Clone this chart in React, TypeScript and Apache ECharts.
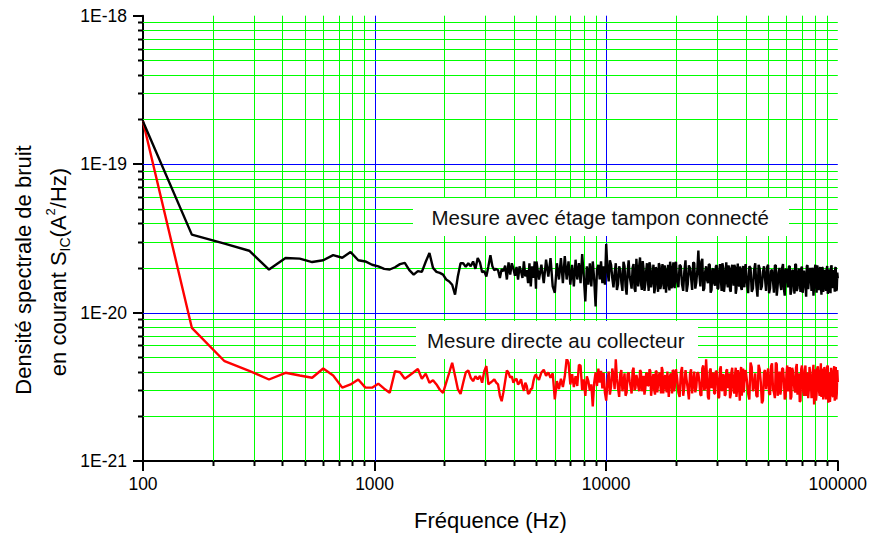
import { useEffect, useRef } from 'react';
import * as echarts from 'echarts';

const FONT = '"Liberation Sans", Arial, Helvetica, sans-serif';
const GREEN = '#00ff00';
const BLUE = '#0000ff';

// Spectrum bins (Hz)
const freqHz = [
  100, 162.5, 225, 287.5, 350, 412.5, 475, 537.5, 600, 662.5,
  725, 787.5, 850, 912.5, 975, 1037.5, 1100, 1162.5, 1225, 1287.5,
  1350, 1412.5, 1475, 1537.5, 1600, 1662.5, 1725, 1787.5, 1850, 1912.5,
  1975, 2037.5, 2100, 2162.5, 2225, 2287.5, 2350, 2412.5, 2475, 2537.5,
  2600, 2662.5, 2725, 2787.5, 2850, 2912.5, 2975, 3037.5, 3100, 3162.5,
  3225, 3287.5, 3350, 3412.5, 3475, 3537.5, 3600, 3662.5, 3725, 3787.5,
  3850, 3912.5, 3975, 4037.5, 4100, 4162.5, 4225, 4287.5, 4350, 4412.5,
  4475, 4537.5, 4600, 4662.5, 4725, 4787.5, 4850, 4912.5, 4975,
  5000, 5125, 5250, 5375, 5500, 5625, 5750, 5875, 6000, 6125,
  6250, 6375, 6500, 6625, 6750, 6875, 7000, 7125, 7250, 7375,
  7500, 7625, 7750, 7875, 8000, 8125, 8250, 8375, 8500, 8625,
  8750, 8875, 9000, 9125, 9250, 9375, 9500, 9625, 9750, 9875,
  10000, 10250, 10500, 10750, 11000, 11250, 11500, 11750, 12000, 12250,
  12500, 12750, 13000, 13250, 13500, 13750, 14000, 14250, 14500, 14750,
  15000, 15250, 15500, 15750, 16000, 16250, 16500, 16750, 17000, 17250,
  17500, 17750, 18000, 18250, 18500, 18750, 19000, 19250, 19500, 19750,
  20000, 20500, 21000, 21500, 22000, 22500, 23000, 23500, 24000, 24500,
  25000, 25500, 26000, 26500, 27000, 27500, 28000, 28500, 29000, 29500,
  30000, 30500, 31000, 31500, 32000, 32500, 33000, 33500, 34000, 34500,
  35000, 35500, 36000, 36500, 37000, 37500, 38000, 38500, 39000, 39500,
  40000, 41000, 42000, 43000, 44000, 45000, 46000, 47000, 48000, 49000,
  50000, 51000, 52000, 53000, 54000, 55000, 56000, 57000, 58000, 59000,
  60000, 61000, 62000, 63000, 64000, 65000, 66000, 67000, 68000, 69000,
  70000, 71000, 72000, 73000, 74000, 75000, 76000, 77000, 78000, 79000,
  80000, 81000, 82000, 83000, 84000, 85000, 86000, 87000, 88000, 89000,
  90000, 91000, 92000, 93000, 94000, 95000, 96000, 97000, 98000, 99000,
  100000,
];

// Measurement with the buffer stage connected, in units of 1e-20 A²/Hz
const bufferedE20 = [
  19.4, 3.35, 2.91, 2.61, 1.95, 2.33, 2.31, 2.19, 2.25, 2.44,
  2.34, 2.56, 2.25, 2.21, 2.10, 2.05, 1.97, 1.95, 2.02, 2.12,
  2.16, 1.93, 1.80, 1.90, 1.88, 2.20, 2.52, 2.00, 1.88, 1.85,
  1.80, 1.67, 1.62, 1.54, 1.32, 1.75, 2.15, 2.15, 2.03, 2.15,
  2.05, 2.21, 1.97, 2.33, 2.18, 1.87, 1.90, 1.75, 2.05, 2.43,
  2.05, 1.93, 1.97, 1.93, 1.71, 1.97, 1.90, 2.07, 1.67, 2.18,
  1.80, 2.15, 1.97, 1.77, 2.03, 1.67, 2.05, 1.90, 1.71, 2.21,
  1.75, 1.93, 1.58, 2.15, 1.50, 2.05, 1.71, 2.21, 1.45,
  2.21, 1.67, 2.10, 1.58, 2.27, 1.75, 2.33, 1.50, 1.36, 2.15,
  1.67, 2.33, 1.58, 2.40, 1.67, 2.21, 1.54, 2.10, 1.50, 2.27,
  1.67, 2.15, 1.58, 2.48, 1.75, 1.19, 2.05, 1.54, 2.15, 1.50,
  2.21, 1.67, 1.10, 1.95, 2.10, 1.67, 2.21, 1.58, 2.05, 1.54,
  2.90, 1.62, 2.10, 1.48, 2.15, 1.55, 1.95, 1.40, 2.05, 1.32,
  2.25, 1.60, 2.00, 1.45, 2.30, 1.50, 2.35, 1.42, 1.98, 1.55,
  2.15, 1.40, 2.05, 1.62, 2.10, 1.45, 1.95, 1.38, 2.08, 1.52,
  2.12, 1.44, 1.96, 1.58, 2.10, 1.41, 2.02, 1.50, 2.18, 1.46,
  2.20, 1.48, 2.05, 1.40, 2.25, 1.55, 2.00, 1.42, 2.15, 1.60,
  2.62, 1.50, 2.30, 1.45, 2.05, 1.58, 2.10, 1.42, 1.98, 1.52,
  2.08, 1.46, 2.12, 1.40, 2.00, 1.55, 2.18, 1.48, 1.95, 1.38,
  2.10, 1.52, 2.02, 1.44, 2.14, 1.50, 1.96, 1.42, 2.06, 1.48,
  2.12, 1.35, 2.00, 1.45, 2.15, 1.28, 1.98, 1.50, 2.05, 1.40,
  2.10, 1.46, 1.95, 1.36, 2.08, 1.52, 2.00, 1.42, 2.12, 1.30,
  1.96, 1.48, 2.06, 1.40, 1.94, 1.34, 2.10, 1.46, 1.98, 1.38,
  2.04, 1.50, 1.92, 1.28, 2.08, 1.44, 2.00, 1.40, 1.95, 1.52,
  2.10, 1.36, 1.97, 1.45, 2.03, 1.32, 2.00, 1.48, 1.94, 1.40,
  2.06, 1.42, 1.96, 1.35, 2.08, 1.46, 1.90, 1.38, 2.02, 1.44,
  1.70,
];

// Direct measurement at the collector, in units of 1e-21 A²/Hz
const directE21 = [
  194, 7.89, 4.70, 4.05, 3.54, 3.93, 3.77, 3.64, 4.20, 3.77,
  3.12, 3.28, 3.54, 3.12, 3.12, 3.32, 3.07, 2.88, 4.03, 3.96,
  3.58, 3.77, 3.96, 4.17, 3.58, 3.88, 3.37, 3.50, 3.28, 3.02,
  2.88, 3.37, 3.93, 4.59, 3.75, 3.05, 2.83, 3.37, 3.95, 4.08,
  3.64, 3.45, 3.72, 3.55, 3.75, 3.37, 4.03, 4.36, 3.28, 3.37,
  3.45, 3.55, 3.37, 3.28, 2.75, 2.53, 2.91, 3.45, 4.08, 3.93,
  3.64, 3.72, 3.37, 3.52, 3.58, 3.28, 3.37, 3.55, 3.20, 2.97,
  3.37, 3.20, 2.83, 2.88, 3.05, 3.08, 3.45, 3.72, 3.84,
  3.72, 3.52, 3.95, 4.12, 3.75, 3.95, 3.64, 3.90, 2.60, 3.45,
  3.05, 3.58, 3.15, 3.72, 4.90, 4.60, 3.28, 3.84, 3.15, 3.72,
  3.20, 4.45, 4.40, 3.00, 3.55, 2.75, 3.72, 3.45, 2.97, 3.28,
  2.33, 3.37, 3.95, 3.20, 4.20, 3.37, 4.05, 3.08, 3.93, 2.88,
  2.55, 4.00, 3.20, 3.75, 4.85, 3.10, 3.85, 2.95, 3.90, 2.90,
  3.95, 3.15, 4.05, 3.00, 3.80, 3.20, 4.10, 2.95, 3.75, 3.05,
  3.90, 3.25, 4.05, 3.10, 3.85, 2.80, 4.00, 3.30, 3.95, 2.85,
  4.10, 3.15, 3.80, 2.90, 4.00, 3.20, 3.90, 2.85, 4.05, 3.10,
  4.15, 2.90, 3.95, 2.75, 4.10, 3.05, 3.85, 2.85, 4.00, 3.15,
  3.90, 2.80, 4.20, 3.00, 4.85, 2.70, 4.05, 3.10, 3.95, 2.85,
  4.00, 2.65, 4.15, 3.00, 3.85, 2.75, 4.05, 3.10, 3.90, 2.80,
  4.25, 2.95, 3.80, 2.70, 4.10, 3.05, 3.95, 2.75, 4.20, 2.90,
  4.10, 2.85, 4.60, 2.95, 3.90, 2.70, 4.15, 2.45, 3.95, 3.05,
  4.20, 2.80, 4.55, 2.90, 4.60, 2.75, 4.00, 3.10, 4.20, 2.60,
  3.85, 2.95, 4.30, 2.70, 4.05, 3.00, 4.25, 2.80, 3.90, 2.55,
  4.40, 2.90, 4.10, 2.75, 3.95, 3.05, 4.30, 2.65, 4.00, 2.40,
  4.15, 2.85, 4.35, 2.95, 3.90, 2.70, 4.20, 2.80, 4.05, 2.60,
  4.30, 2.47, 3.95, 2.90, 4.25, 2.75, 4.10, 2.55, 4.30, 2.85,
  3.40,
];

// Intermediate bins above 10 kHz (Hz)
const freqHzMid = [
  10125, 10375, 10625, 10875, 11125, 11375, 11625, 11875, 12125, 12375,
  12625, 12875, 13125, 13375, 13625, 13875, 14125, 14375, 14625, 14875,
  15125, 15375, 15625, 15875, 16125, 16375, 16625, 16875, 17125, 17375,
  17625, 17875, 18125, 18375, 18625, 18875, 19125, 19375, 19625, 19875,
  20250, 20750, 21250, 21750, 22250, 22750, 23250, 23750, 24250, 24750,
  25250, 25750, 26250, 26750, 27250, 27750, 28250, 28750, 29250, 29750,
  30250, 30750, 31250, 31750, 32250, 32750, 33250, 33750, 34250, 34750,
  35250, 35750, 36250, 36750, 37250, 37750, 38250, 38750, 39250, 39750,
  40500, 41500, 42500, 43500, 44500, 45500, 46500, 47500, 48500, 49500,
  50500, 51500, 52500, 53500, 54500, 55500, 56500, 57500, 58500, 59500,
  60500, 61500, 62500, 63500, 64500, 65500, 66500, 67500, 68500, 69500,
  70500, 71500, 72500, 73500, 74500, 75500, 76500, 77500, 78500, 79500,
  80500, 81500, 82500, 83500, 84500, 85500, 86500, 87500, 88500, 89500,
  90500, 91500, 92500, 93500, 94500, 95500, 96500, 97500, 98500, 99500,
];

// Buffered measurement at the intermediate bins, 1e-20 A²/Hz
const bufferedMidE20 = [
  1.95, 2.25, 1.70, 1.85, 1.42, 2.05, 1.60, 2.20, 1.50, 1.88,
  1.75, 1.45, 2.12, 1.38, 1.80, 2.05, 1.58, 2.22, 1.40, 1.90,
  1.68, 2.18, 1.48, 1.85, 1.35, 2.02, 1.62, 2.15, 1.44, 1.92,
  1.70, 2.08, 1.36, 1.82, 1.55, 2.20, 1.46, 1.88, 1.60, 2.04,
  1.62, 2.10, 1.55, 1.90, 1.38, 2.08, 1.72, 2.18, 1.45, 1.95,
  1.80, 2.20, 1.40, 1.88, 1.66, 2.12, 1.36, 1.95, 1.58, 2.05,
  1.44, 1.90, 1.70, 2.15, 1.38, 1.85, 1.60, 2.08, 1.42, 1.98,
  1.75, 2.10, 1.34, 1.92, 1.56, 2.04, 1.46, 1.86, 1.68, 2.00,
  1.60, 2.05, 1.38, 1.92, 1.52, 2.10, 1.42, 1.88, 1.70, 2.02,
  1.35, 1.90, 1.62, 2.08, 1.30, 1.86, 1.55, 2.00, 1.45, 1.95,
  1.68, 2.04, 1.32, 1.90, 1.58, 2.12, 1.40, 1.84, 1.64, 1.98,
  1.36, 1.92, 1.56, 2.06, 1.44, 1.88, 1.72, 2.00, 1.30, 1.94,
  1.60, 2.08, 1.42, 1.86, 1.54, 2.02, 1.38, 1.90, 1.66, 1.96,
  1.34, 1.88, 1.58, 2.04, 1.46, 1.92, 1.62, 2.00, 1.40, 1.86,
];

// Direct measurement at the intermediate bins, 1e-21 A²/Hz
const directMidE21 = [
  3.40, 2.80, 4.20, 3.05, 3.60, 2.70, 4.10, 3.30, 2.75, 3.85,
  3.45, 2.85, 4.25, 3.10, 3.55, 2.95, 4.00, 3.35, 2.80, 3.90,
  3.20, 4.15, 2.75, 3.65, 3.00, 4.05, 2.90, 3.70, 3.25, 4.30,
  2.85, 3.60, 3.10, 4.00, 2.70, 3.75, 3.35, 4.10, 2.95, 3.55,
  3.60, 2.70, 4.30, 3.15, 3.50, 2.60, 4.15, 3.35, 2.90, 3.95,
  3.40, 2.75, 4.40, 3.10, 3.65, 2.60, 4.20, 3.20, 2.85, 4.05,
  3.50, 2.70, 4.35, 3.00, 3.70, 2.80, 4.15, 3.30, 2.65, 4.00,
  3.45, 2.85, 4.25, 3.05, 3.60, 2.55, 4.30, 3.25, 2.90, 3.90,
  3.50, 2.60, 4.30, 3.20, 2.75, 4.45, 3.40, 2.55, 4.10, 3.60,
  2.85, 4.35, 3.05, 2.65, 4.50, 3.30, 2.80, 4.20, 3.55, 2.70,
  4.40, 3.15, 2.60, 4.25, 3.45, 2.90, 4.50, 3.20, 2.50, 4.15,
  3.60, 2.75, 4.40, 3.10, 2.65, 4.30, 3.50, 2.85, 4.45, 3.25,
  2.55, 4.20, 3.40, 2.75, 4.55, 3.05, 2.60, 4.30, 3.50, 2.80,
  4.40, 3.15, 2.50, 4.25, 3.45, 2.70, 4.35, 3.20, 2.60, 4.10,
];

// The y axis runs in units of 1e-21 A²/Hz (1 … 1000), labelled as powers of ten
const Y_UNIT_EXP = -21;

// Grid positions
const xMinorGrid = [200, 300, 400, 500, 600, 700, 800, 900, 2000, 3000, 4000, 5000, 6000, 7000, 8000, 9000,
  20000, 30000, 40000, 50000, 60000, 70000, 80000, 90000];
const xMajorGrid = [1000, 10000];
const yMinorGrid = [2, 3, 4, 5, 6, 7, 8, 9, 20, 30, 40, 50, 60, 70, 80, 90, 200, 300, 400, 500, 600, 700, 800, 900];
const yMajorGrid = [10, 100];

const bufferedLabel = 'Mesure avec étage tampon connecté';
const directLabel = 'Mesure directe au collecteur';

// Pairs bins with values and orders them by frequency
function buildSeries(freqs: number[][], values: number[][], scale: number): number[][] {
  const out: number[][] = [];
  freqs.forEach((fs, j) => {
    const vs = values[j];
    const n = Math.min(fs.length, vs.length);
    for (let i = 0; i < n; i++) out.push([fs[i], vs[i] * scale]);
  });
  return out.sort((a, b) => a[0] - b[0]);
}

export default function App() {
  const ref = useRef<HTMLDivElement>(null);

  useEffect(() => {
    if (!ref.current) return;
    const chart = echarts.init(ref.current, undefined, { renderer: 'svg' });

    const bufferedData = buildSeries([freqHz, freqHzMid], [bufferedE20, bufferedMidE20], 10);
    const directData = buildSeries([freqHz, freqHzMid], [directE21, directMidE21], 1);

    // kind: 0 vertical minor, 1 vertical major, 2 horizontal minor, 3 horizontal major
    const gridItems = [
      ...xMinorGrid.map((v) => [v, 10, 0]),
      ...xMajorGrid.map((v) => [v, 10, 1]),
      ...yMinorGrid.map((v) => [1000, v, 2]),
      ...yMajorGrid.map((v) => [1000, v, 3]),
    ];

    const tickStyle = { stroke: '#000', lineWidth: 2 };

    chart.setOption({
      animation: false,
      backgroundColor: '#ffffff',
      grid: { left: 143, right: 31.5, top: 15.7, bottom: 74.3, containLabel: false },
      xAxis: {
        type: 'log',
        logBase: 10,
        min: 100,
        max: 100000,
        axisLine: { show: true, onZero: false, lineStyle: { color: '#000', width: 2 } },
        axisTick: { show: true, length: 10, lineStyle: { color: '#000', width: 2 } },
        splitLine: { show: false },
        minorTick: { show: false },
        minorSplitLine: { show: false },
        axisLabel: {
          color: '#000',
          fontFamily: FONT,
          fontSize: 17.5,
          margin: 14,
          formatter: (v: number) => String(Math.round(v)),
        },
        name: 'Fréquence (Hz)',
        nameLocation: 'middle',
        nameGap: 48,
        nameTextStyle: { color: '#000', fontFamily: FONT, fontSize: 22 },
      },
      yAxis: {
        type: 'log',
        logBase: 10,
        min: 1,
        max: 1000,
        axisLine: { show: true, onZero: false, lineStyle: { color: '#000', width: 2 } },
        axisTick: { show: true, length: 10, lineStyle: { color: '#000', width: 2 } },
        splitLine: { show: false },
        minorTick: { show: false },
        minorSplitLine: { show: false },
        axisLabel: {
          color: '#000',
          fontFamily: FONT,
          fontSize: 17.5,
          margin: 16,
          formatter: (v: number) => '1E' + (Math.round(Math.log10(v)) + Y_UNIT_EXP),
        },
      },
      series: [
        {
          type: 'custom',
          coordinateSystem: 'cartesian2d',
          silent: true,
          clip: false,
          data: gridItems,
          encode: { x: 0, y: 1 },
          renderItem: (params: any, api: any) => {
            const kind = api.value(2) as number;
            const cs = params.coordSys as { x: number; y: number; width: number; height: number };
            const top = cs.y;
            const bottom = cs.y + cs.height;
            const left = cs.x;
            const right = cs.x + cs.width;
            if (kind <= 1) {
              const px = Math.round(api.coord([api.value(0), 10])[0]) + 0.5;
              const children: any[] = [
                {
                  type: 'line',
                  shape: { x1: px, y1: top, x2: px, y2: bottom },
                  style: { stroke: kind === 1 ? BLUE : GREEN, lineWidth: 1 },
                },
              ];
              if (kind === 0) {
                children.push({ type: 'line', shape: { x1: px, y1: bottom, x2: px, y2: bottom + 5 }, style: tickStyle });
              }
              return { type: 'group', children };
            }
            const py = Math.round(api.coord([1000, api.value(1)])[1]) + 0.5;
            const children: any[] = [
              {
                type: 'line',
                shape: { x1: left, y1: py, x2: right, y2: py },
                style: { stroke: kind === 3 ? BLUE : GREEN, lineWidth: 1 },
              },
            ];
            if (kind === 2) {
              children.push({ type: 'line', shape: { x1: left - 5, y1: py, x2: left, y2: py }, style: tickStyle });
            }
            return { type: 'group', children };
          },
        },
        {
          name: directLabel,
          type: 'line',
          data: directData,
          showSymbol: false,
          symbol: 'none',
          lineStyle: { color: '#ff0000', width: 2.4 },
          z: 3,
        },
        {
          name: bufferedLabel,
          type: 'line',
          data: bufferedData,
          showSymbol: false,
          symbol: 'none',
          lineStyle: { color: '#000000', width: 2.4 },
          z: 4,
        },
      ],
      graphic: [
        { type: 'rect', shape: { x: 413, y: 198, width: 376, height: 38 }, style: { fill: '#ffffff' }, z: 10 },
        {
          type: 'text',
          x: 431.5,
          y: 217,
          z: 11,
          style: { text: bufferedLabel, fill: '#111', fontSize: 20.5, fontFamily: FONT, align: 'left', verticalAlign: 'middle' },
        },
        { type: 'rect', shape: { x: 416, y: 321, width: 282, height: 38 }, style: { fill: '#ffffff' }, z: 10 },
        {
          type: 'text',
          x: 427,
          y: 340,
          z: 11,
          style: { text: directLabel, fill: '#111', fontSize: 20.5, fontFamily: FONT, align: 'left', verticalAlign: 'middle' },
        },
        {
          type: 'text',
          x: 23,
          y: 270,
          rotation: Math.PI / 2,
          z: 11,
          style: {
            text: 'Densité spectrale de bruit',
            fill: '#000',
            fontSize: 22,
            fontFamily: FONT,
            align: 'center',
            verticalAlign: 'middle',
          },
        },
        {
          type: 'text',
          x: 58,
          y: 272,
          rotation: Math.PI / 2,
          z: 11,
          style: {
            text: '{n|en courant S}{sub|IC}{n|(A}{sup|2}{n|/Hz)}',
            align: 'center',
            verticalAlign: 'middle',
            rich: {
              n: { fontSize: 22, fontFamily: FONT, fill: '#000', lineHeight: 28 },
              sub: { fontSize: 14, fontFamily: FONT, fill: '#000', lineHeight: 14, verticalAlign: 'bottom' },
              sup: { fontSize: 13, fontFamily: FONT, fill: '#000', lineHeight: 13, verticalAlign: 'top' },
            },
          },
        },
      ],
    });

    return () => chart.dispose();
  }, []);

  return (
    <div
      ref={ref}
      style={{ position: 'fixed', left: 0, top: 0, width: 870, height: 536, background: '#fff' }}
    />
  );
}
